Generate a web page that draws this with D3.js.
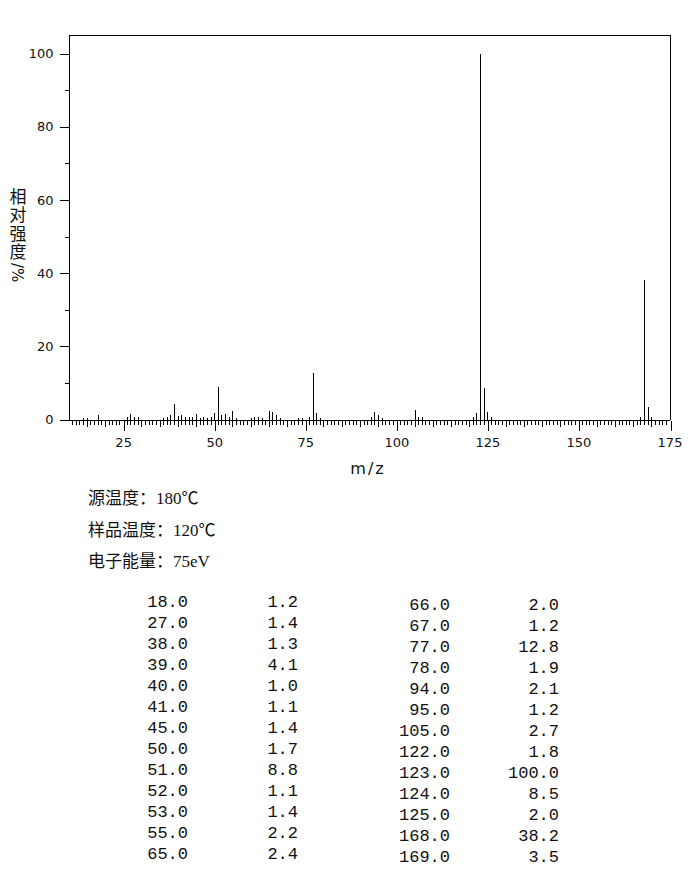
<!DOCTYPE html>
<html>
<head>
<meta charset="utf-8">
<script src="https://cdn.jsdelivr.net/npm/d3@7"></script>
<style>
  html, body { margin: 0; padding: 0; background: #fff; }
  svg { display: block; }
</style>
</head>
<body>
<div id="chart"></div>
<script>
// ---- data ----
// listed peaks (relative intensity >= 1.0)
const mzListed = [18, 27, 38, 39, 40, 41, 45, 50, 51, 52, 53, 55, 65,
                  66, 67, 77, 78, 94, 95, 105, 122, 123, 124, 125, 168, 169];
const relListed = [1.2, 1.4, 1.3, 4.1, 1.0, 1.1, 1.4, 1.7, 8.8, 1.1, 1.4, 2.2, 2.4,
                   2.0, 1.2, 12.8, 1.9, 2.1, 1.2, 2.7, 1.8, 100.0, 8.5, 2.0, 38.2, 3.5];
// small unlisted peaks
const mzSmall = [14, 15, 26, 28, 29, 36, 37, 42, 43, 44, 46, 47, 48, 49, 54, 56,
                 60, 61, 62, 63, 68, 73, 74, 76, 79, 93, 96, 106, 107, 121, 126, 167, 170];
const relSmall = [0.4, 0.4, 0.6, 0.8, 0.8, 0.5, 0.8, 0.7, 0.6, 0.6, 0.5, 0.6, 0.5, 0.7, 0.6, 0.5,
                  0.4, 0.8, 0.7, 0.5, 0.5, 0.4, 0.5, 0.6, 0.5, 0.7, 0.5, 0.7, 0.6, 0.7, 0.6, 0.8, 0.7];
const xDomain = [10, 175];
const yDomain = [0, 105];
const xTickLabels = [25, 50, 75, 100, 125, 150, 175];
const yTickLabels = [0, 20, 40, 60, 80, 100];
const infoLines = ["源温度：180℃", "样品温度：120℃", "电子能量：75eV"];
const yAxisTitleCJK = "相对强度";
const yAxisTitleUnit = "/%";
const xAxisTitle = "m/z";

// ---- layout ----
const W = 696, H = 879;
const svg = d3.select("#chart").append("svg").attr("width", W).attr("height", H);

const x = d3.scaleLinear().domain(xDomain).range([68.5, 669.5]);
const y = d3.scaleLinear().domain([0, 100]).range([419.5, 53.5]);
const yTop = y(yDomain[1]);
const px = v => Math.round(x(v)) + 0.5;

const g = svg.append("g").attr("shape-rendering", "crispEdges");

// frame top and right
g.append("line").attr("x1", x(xDomain[0])).attr("x2", x(xDomain[1]))
  .attr("y1", Math.round(yTop) + 0.5).attr("y2", Math.round(yTop) + 0.5)
  .attr("stroke", "#000").attr("stroke-width", 1.2);
g.append("line").attr("x1", px(xDomain[1])).attr("x2", px(xDomain[1]))
  .attr("y1", yTop).attr("y2", y(0))
  .attr("stroke", "#000").attr("stroke-width", 1.2);

// y axis with major/minor ticks
const yAxisG = g.append("g").attr("transform", `translate(${px(xDomain[0])},0)`);
yAxisG.call(d3.axisLeft(y).tickValues(yTickLabels).tickSize(10).tickPadding(6).tickFormat(d3.format("d")));
yAxisG.select(".domain").attr("d", `M0,${Math.round(yTop)+0.5}V${y(0)}`);
const yMinor = d3.range(10, 100, 20);
yAxisG.selectAll(".yminor").data(yMinor).enter().append("line")
  .attr("x1", -5).attr("x2", 0)
  .attr("y1", d => Math.round(y(d)) + 0.5).attr("y2", d => Math.round(y(d)) + 0.5)
  .attr("stroke", "#000");
yAxisG.selectAll("text").attr("font-family", "DejaVu Sans").attr("font-size", 13).attr("fill", "#111");

// x axis with unit ticks
const xAxisG = g.append("g").attr("transform", `translate(0,${Math.round(y(0)) + 0.5})`);
xAxisG.call(d3.axisBottom(x).tickValues(xTickLabels).tickSize(10).tickPadding(7).tickFormat(d3.format("d")));
xAxisG.select(".domain").attr("d", `M${x(xDomain[0])},0H${x(xDomain[1])}`);
xAxisG.selectAll(".tick line").attr("transform", d => `translate(${px(d) - x(d)},0)`);
const unitTicks = d3.range(11, 175).filter(v => v % 25 !== 0);
xAxisG.selectAll(".xminor").data(unitTicks).enter().append("line")
  .attr("x1", d => px(d)).attr("x2", d => px(d))
  .attr("y1", 0).attr("y2", d => d % 5 === 0 ? 6 : 4)
  .attr("stroke", "#000");
xAxisG.selectAll("text").attr("font-family", "DejaVu Sans").attr("font-size", 13).attr("fill", "#111");

// peaks
const peaks = mzSmall.map((m, i) => ({ m, r: relSmall[i] }))
  .concat(mzListed.map((m, i) => ({ m, r: relListed[i] })));
g.selectAll(".peak").data(peaks).enter().append("line")
  .attr("x1", d => px(d.m)).attr("x2", d => px(d.m))
  .attr("y1", y(0)).attr("y2", d => y(d.r))
  .attr("stroke", "#000").attr("stroke-width", 1);

// axis titles
svg.append("text").attr("x", 368).attr("y", 474).attr("text-anchor", "middle")
  .attr("font-family", "DejaVu Sans").attr("font-size", 16).attr("letter-spacing", 2)
  .attr("fill", "#111").text(xAxisTitle);
// vertical y title: upright CJK characters, unit rotated sideways
svg.append("text").attr("x", 18).attr("y", 188)
  .style("writing-mode", "vertical-rl")
  .attr("letter-spacing", 1.5)
  .attr("font-family", "'Noto Sans CJK SC'").attr("font-size", 17)
  .attr("fill", "#111").text(yAxisTitleCJK);
svg.append("text")
  .attr("transform", `translate(12,263) rotate(90)`)
  .attr("font-family", "'DejaVu Sans'").attr("font-size", 15)
  .attr("fill", "#111").text(yAxisTitleUnit);

// info lines
svg.selectAll(".info").data(infoLines).enter().append("text")
  .attr("x", 88).attr("y", (d, i) => 504 + i * 31.5)
  .attr("font-family", "'Liberation Serif', 'Noto Sans CJK SC'").attr("font-size", 17)
  .attr("fill", "#111").text(d => d);

// table
const half = Math.ceil(mzListed.length / 2);
const cols = [
  { vals: mzListed.slice(0, half), xr: 188, y0: 607 },
  { vals: relListed.slice(0, half), xr: 298, y0: 607 },
  { vals: mzListed.slice(half), xr: 450, y0: 610 },
  { vals: relListed.slice(half), xr: 559, y0: 610 }
];
cols.forEach(c => {
  svg.append("g").selectAll("text").data(c.vals).enter().append("text")
    .attr("x", c.xr).attr("y", (d, i) => c.y0 + i * 21)
    .attr("text-anchor", "end")
    .attr("font-family", "'Liberation Mono', monospace").attr("font-size", 17)
    .attr("fill", "#111").text(d => d.toFixed(1));
});
</script>
</body>
</html>
